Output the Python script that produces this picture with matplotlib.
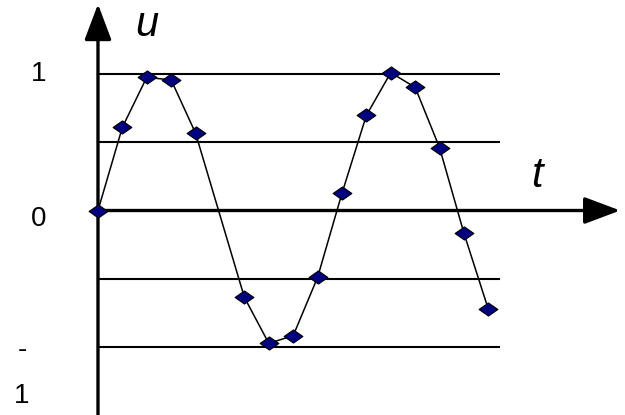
import matplotlib.pyplot as plt
from matplotlib.path import Path

plt.rcParams['font.family'] = ['Liberation Sans', 'DejaVu Sans']

# sampled signal
t = [0, 1, 2, 3, 4, 6, 7, 8, 9, 10, 11, 12, 13, 14, 15, 16]
u = [0.0, 0.61, 0.976, 0.956, 0.566, -0.636, -0.973, -0.917, -0.49,
     0.126, 0.697, 1.01, 0.902, 0.46, -0.167, -0.724]

levels = [1, 0.5, -0.5, -1]

fig = plt.figure(figsize=(6.25, 4.15), dpi=100)
ax = fig.add_axes([0, 0, 1, 1])
ax.set_xlim(-4.016, 21.6)
ax.set_ylim(-1.498, 1.542)
ax.axis('off')

# reference levels
for lv in levels:
    ax.plot([0, 16.45], [lv, lv], color='black', lw=1.5, zorder=1)

# axes with arrows
arrow = dict(arrowstyle='-|>,head_length=0.85,head_width=0.32',
             lw=2.4, color='black', shrinkA=0, shrinkB=0, mutation_scale=26)
ax.annotate('', xy=(21.4, 0), xytext=(0, 0), arrowprops=arrow)
ax.annotate('', xy=(0, 1.512), xytext=(0, -1.6), arrowprops=arrow)

# flattened diamond marker
diamond = Path([(-1, 0), (0, 0.7), (1, 0), (0, -0.7), (-1, 0)],
               [Path.MOVETO, Path.LINETO, Path.LINETO, Path.LINETO, Path.CLOSEPOLY])
ax.plot(t, u, color='black', lw=1.1, marker=diamond, markersize=13.5,
        markerfacecolor='#000080', markeredgecolor='black',
        markeredgewidth=0.8, zorder=3, clip_on=False)

# labels
ax.text(-2.42, 1.0, '1', fontsize=20, ha='center', va='center')
ax.text(-2.42, -0.06, '0', fontsize=20, ha='center', va='center')
ax.text(-3.11, -1.02, '-', fontsize=20, ha='center', va='center')
ax.text(-3.11, -1.36, '1', fontsize=20, ha='center', va='center')
ax.text(2.0, 1.36, 'u', fontsize=30, style='italic', ha='center', va='center')
ax.text(18.0, 0.25, 't', fontsize=30, style='italic', ha='center', va='center')

fig.savefig('out.png', dpi=100)
